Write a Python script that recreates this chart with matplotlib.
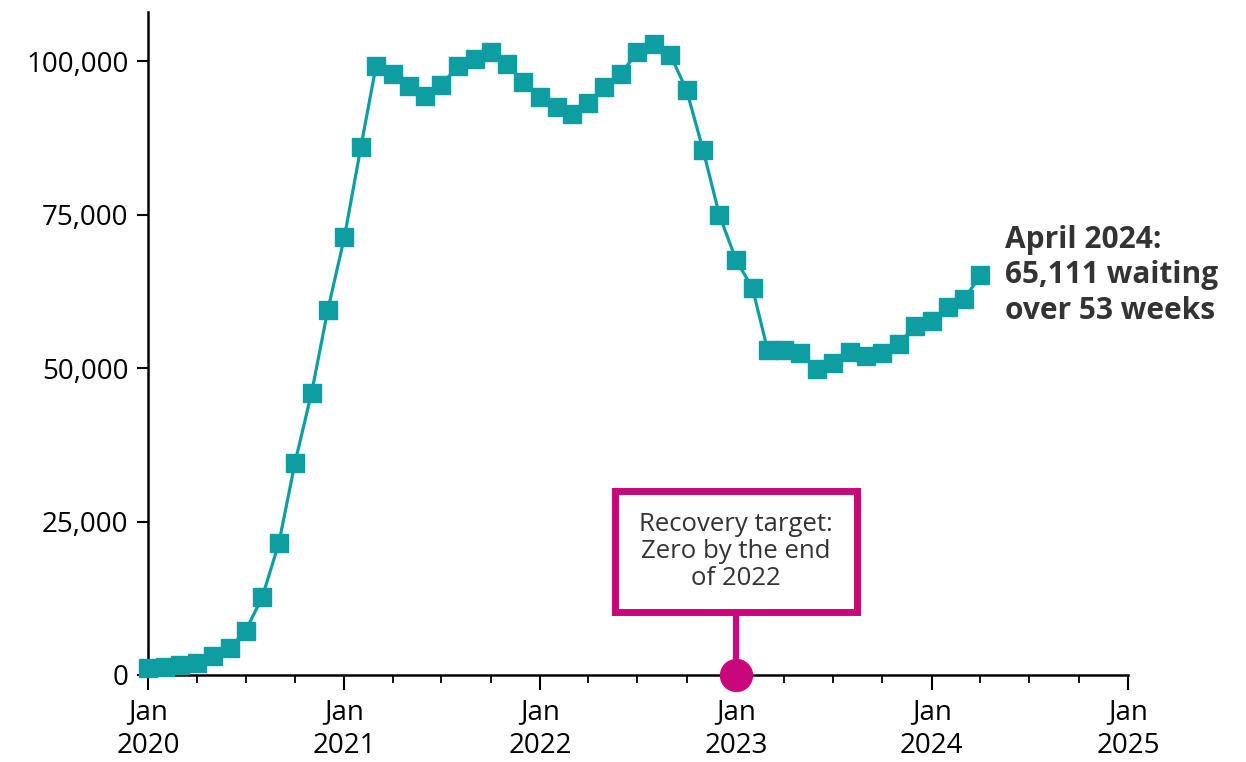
"""Patients waiting over 52 weeks, monthly, with recovery target marker."""

import matplotlib

matplotlib.use("Agg")
import matplotlib.dates as mdates
import matplotlib.pyplot as plt
import pandas as pd
from matplotlib.patches import Rectangle
from matplotlib.ticker import FuncFormatter

TEAL = "#0E9EA2"
PINK = "#C8077A"
DARK = "#333333"

START_MONTH = "2020-01-01"
WAITING = [
    1100, 1300, 1600, 2000, 3100, 4400, 7200, 12700, 21500, 34600, 46000, 59400,
    71300, 86100, 99200, 98000, 95900, 94300, 96200, 99200, 100300, 101500, 99500, 96600,
    94100, 92500, 91400, 93200, 95800, 98000, 101500, 102800, 101000, 95300, 85500, 75000,
    67700, 63000, 53000, 52900, 52400, 49900, 50900, 52700, 51900, 52400, 54000, 56900,
    57700, 60000, 61200, 65111,
]
TARGET_DATE = "2023-01-01"
TARGET_VALUE = 0
Y_TICKS = [0, 25000, 50000, 75000, 100000]
LATEST_LABEL = "April 2024:\n65,111 waiting\nover 53 weeks"
TARGET_LABEL = "Recovery target:\nZero by the end\nof 2022"

plt.rcParams["font.family"] = ["Open Sans", "DejaVu Sans"]

months = pd.date_range(START_MONTH, periods=len(WAITING), freq="MS")

fig = plt.figure(figsize=(12.46, 7.62), dpi=100)
ax = fig.add_axes([0.1188, 0.1142, 0.7865, 0.8698])

ax.plot(months, WAITING, color=TEAL, lw=2.3, marker="s", ms=12.5,
        mec=TEAL, clip_on=False, zorder=3)

# recovery target: stem + dot + boxed label
target = pd.Timestamp(TARGET_DATE)
tnum = mdates.date2num(target)
box_half_w = 226  # days
box_lo, box_hi = 10300, 30000
ax.plot([target, target], [TARGET_VALUE, box_lo + 2000], color=PINK, lw=4.5,
        solid_capstyle="butt", zorder=4, clip_on=False)
ax.plot([target], [TARGET_VALUE], marker="o", ms=23, color=PINK,
        clip_on=False, zorder=5)
ax.add_patch(Rectangle((tnum - box_half_w, box_lo), 2 * box_half_w,
                       box_hi - box_lo, fc="white", ec=PINK, lw=5,
                       zorder=6, clip_on=False))
ax.text(target, (box_lo + box_hi) / 2, TARGET_LABEL, ha="center",
        va="center", fontsize=18.5, color=DARK, linespacing=1.12, zorder=7)

ax.annotate(LATEST_LABEL, xy=(months[-1], WAITING[-1]), xytext=(18, 0),
            textcoords="offset points", ha="left", va="center",
            fontsize=21.5, fontweight="bold", color=DARK, linespacing=1.25,
            annotation_clip=False)

ax.set_xlim(pd.Timestamp("2020-01-01"), pd.Timestamp("2025-01-01"))
ax.set_ylim(0, 108000)
ax.set_yticks(Y_TICKS)
ax.yaxis.set_major_formatter(FuncFormatter(lambda v, _: f"{v:,.0f}"))

ax.xaxis.set_major_locator(mdates.YearLocator())
ax.xaxis.set_minor_locator(mdates.MonthLocator(bymonth=(1, 4, 7, 10)))
ax.xaxis.set_major_formatter(mdates.DateFormatter("%b\n%Y"))

for side in ("top", "right"):
    ax.spines[side].set_visible(False)
for side in ("left", "bottom"):
    ax.spines[side].set_linewidth(1.8)

ax.tick_params(axis="both", which="major", labelsize=20, width=1.5,
               color="black", labelcolor="black")
ax.tick_params(axis="x", which="major", length=11, pad=6)
ax.tick_params(axis="x", which="minor", length=6, width=1.3)
ax.tick_params(axis="y", which="major", length=8, pad=6)
for lbl in ax.get_xticklabels():
    lbl.set_linespacing(1.25)

fig.savefig("out.png", dpi=100)
